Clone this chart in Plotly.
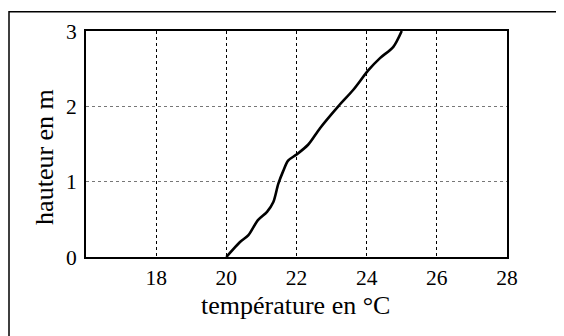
import plotly.graph_objects as go

temperature = [20.0, 20.39, 20.63, 20.9, 21.16, 21.34, 21.48, 21.62, 21.76, 22.0, 22.33, 22.67, 23.19, 23.62, 24.05, 24.38, 24.76, 25.0]
hauteur = [0.0, 0.2, 0.29, 0.49, 0.6, 0.73, 0.97, 1.14, 1.28, 1.36, 1.49, 1.71, 2.0, 2.22, 2.48, 2.64, 2.79, 3.0]
x_ticks = [18, 20, 22, 24, 26, 28]
y_ticks = [0, 1, 2, 3]

FAM = "Liberation Serif, Times New Roman, serif"
tick_font = dict(family=FAM, size=21.5, color="black")
title_font = dict(family=FAM, size=26, color="black")

# plot area on screen: x 86..507, y 29..257 (page has 8px body offset)
L, T, R, B = 86, 29, 507, 257
W, H = R - L, B - T

def px(x):
    return (x - L) / W

def py(y):
    return (B - y) / H

fig = go.Figure()
fig.add_trace(go.Scatter(x=temperature, y=hauteur, mode="lines",
                         line=dict(color="black", width=2.6, shape="spline", smoothing=0.8),
                         showlegend=False, hoverinfo="skip"))

fig.update_layout(
    width=564, height=336,
    margin=dict(l=L - 8, r=564 - (R - 8), t=T - 8, b=336 - (B - 8)),
    paper_bgcolor="white", plot_bgcolor="white",
    font=tick_font,
    xaxis=dict(range=[16, 28], tickvals=x_ticks, ticks="", showline=True, linecolor="black",
               linewidth=2, mirror=True, showgrid=True, gridcolor="black", griddash="dot",
               gridwidth=1, zeroline=False, tickfont=tick_font),
    yaxis=dict(range=[0, 3], tickvals=y_ticks, ticks="", showline=True, linecolor="black",
               linewidth=2, mirror=True, showgrid=True, gridcolor="#777777", griddash="dot",
               gridwidth=1, zeroline=False, tickfont=tick_font, ticklabelstandoff=3),
    annotations=[
        dict(text="hauteur en m", xref="paper", yref="paper", x=px(45), y=py(156),
             textangle=-90, showarrow=False, font=title_font, xanchor="center", yanchor="middle"),
        dict(text="température en °C", xref="paper", yref="paper", x=px(295), y=py(306),
             showarrow=False, font=title_font, xanchor="center", yanchor="middle", borderpad=0),
    ],
    shapes=[dict(type="rect", xref="paper", yref="paper",
                 x0=px(9), x1=px(600), y0=py(360), y1=py(9.5),
                 line=dict(color="black", width=1.5), layer="below")],
)

fig.write_html("out.html")
